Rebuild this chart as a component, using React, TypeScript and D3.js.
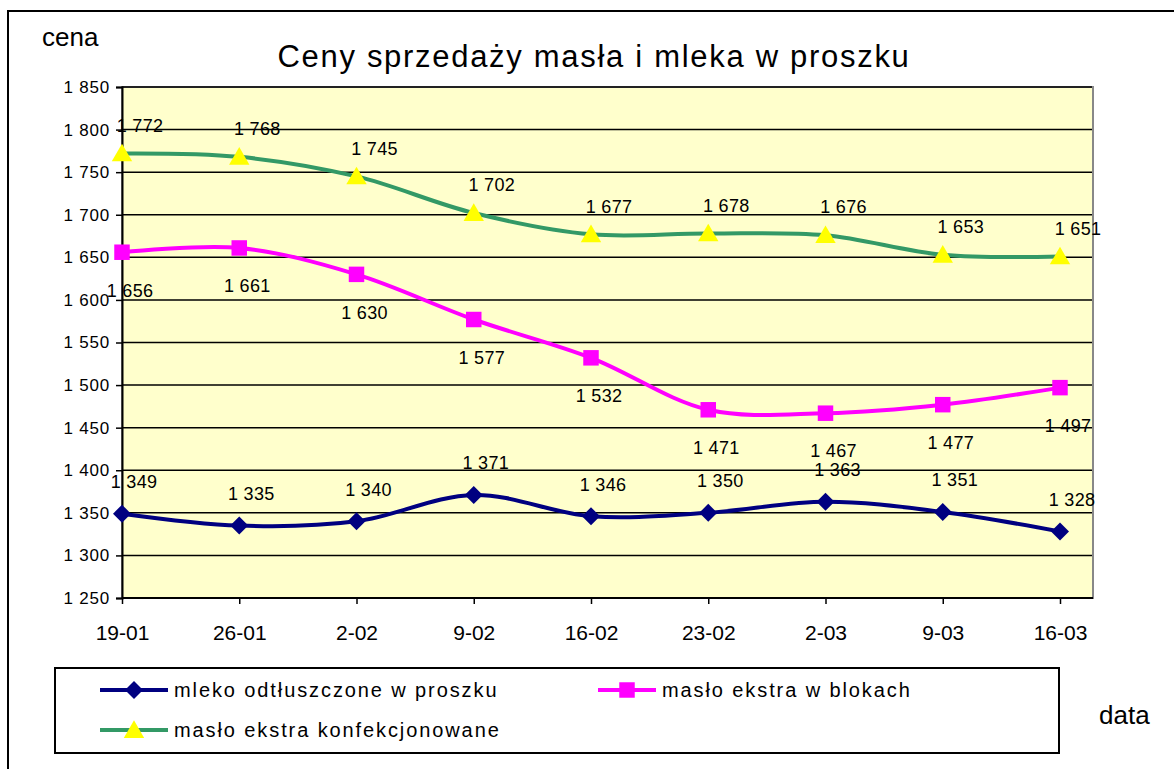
import * as d3 from "d3";
import React, { useRef, useEffect } from "react";

const dates = ["19-01", "26-01", "2-02", "9-02", "16-02", "23-02", "2-03", "9-03", "16-03"];
const mleko = [1349, 1335, 1340, 1371, 1346, 1350, 1363, 1351, 1328];
const masloBloki = [1656, 1661, 1630, 1577, 1532, 1471, 1467, 1477, 1497];
const masloKonf = [1772, 1768, 1745, 1702, 1677, 1678, 1676, 1653, 1651];
const yTicks = d3.range(1250, 1851, 50);

const fmt = (v) => d3.format(",")(v).replace(",", " ");
const FONT = "'Liberation Sans', Arial, sans-serif";

function App() {
    const ref = useRef();
    const width = 1174;
    const height = 769;
    const plot = { left: 122, top: 87, right: 1093, bottom: 598 };

    useEffect(() => {
        const svg = d3.select(ref.current);
        svg.selectAll("*").remove();
        svg.style("font-family", FONT);

        const x = d3.scaleLinear().domain([0, dates.length - 1]).range([122, 1060]);
        const y = d3.scaleLinear().domain([1250, 1850]).range([plot.bottom, plot.top]);

        // outer frame
        svg.append("rect")
            .attr("x", 8).attr("y", 11)
            .attr("width", width + 20).attr("height", height + 20)
            .attr("fill", "white").attr("stroke", "black").attr("stroke-width", 2);

        // plot background
        svg.append("rect")
            .attr("x", plot.left).attr("y", plot.top)
            .attr("width", plot.right - plot.left).attr("height", plot.bottom - plot.top)
            .attr("fill", "#FFFFCC").attr("stroke", "#888").attr("stroke-width", 2);

        // grid
        svg.append("g").selectAll("line").data(yTicks.slice(1)).join("line")
            .attr("x1", plot.left).attr("x2", plot.right - 1)
            .attr("y1", (d) => y(d)).attr("y2", (d) => y(d))
            .attr("stroke", "black").attr("stroke-width", 1.5);

        // y axis
        const yAxis = svg.append("g").attr("transform", `translate(${plot.left},0)`)
            .call(d3.axisLeft(y).tickValues(yTicks).tickSize(6).tickFormat(fmt));
        yAxis.attr("font-size", null).attr("font-family", null);
        yAxis.select(".domain").attr("stroke-width", 2);
        yAxis.selectAll(".tick line").attr("stroke-width", 1.5);
        yAxis.selectAll("text").attr("font-size", 17).attr("fill", "black").attr("x", -12)
            .attr("letter-spacing", 0.8).style("font-family", FONT);

        // x axis
        const xAxis = svg.append("g").attr("transform", `translate(0,${plot.bottom})`)
            .call(d3.axisBottom(x).tickValues(d3.range(dates.length)).tickSize(6)
                .tickFormat((i) => dates[i]));
        xAxis.attr("font-size", null).attr("font-family", null);
        xAxis.select(".domain").remove();
        xAxis.append("line").attr("x1", plot.left).attr("x2", plot.right)
            .attr("stroke", "black").attr("stroke-width", 2);
        xAxis.selectAll(".tick line").attr("stroke-width", 1.5);
        xAxis.selectAll("text").attr("font-size", 21).attr("fill", "black")
            .attr("y", 42).attr("dy", 0)
            .style("font-family", FONT);

        const line = d3.line()
            .x((d, i) => x(i))
            .y((d) => y(d))
            .curve(d3.curveCatmullRom.alpha(0.5));

        const series = [
            { data: masloKonf, color: "#339966", marker: "triangle", fill: "#FFFF00", dx: 18, dy: -28 },
            { data: masloBloki, color: "#FF00FF", marker: "square", fill: "#FF00FF", dx: 8, dy: 38 },
            { data: mleko, color: "#000080", marker: "diamond", fill: "#000080", dx: 12, dy: -32 },
        ];

        const symbols = {
            triangle: d3.symbol().type(d3.symbolTriangle).size(180),
            square: d3.symbol().type(d3.symbolSquare).size(240),
            diamond: () => "M0,-9L9,0L0,9L-9,0Z",
        };
        const markerShift = { triangle: 2, square: 0, diamond: 0 };

        series.forEach((s) => {
            svg.append("path").datum(s.data)
                .attr("d", line).attr("fill", "none")
                .attr("stroke", s.color).attr("stroke-width", 4);
            svg.append("g").selectAll("path").data(s.data).join("path")
                .attr("d", symbols[s.marker])
                .attr("transform", (d, i) => `translate(${x(i)},${y(d) + markerShift[s.marker]})`)
                .attr("fill", s.fill);
            svg.append("g").selectAll("text").data(s.data).join("text")
                .attr("x", (d, i) => x(i) + s.dx)
                .attr("y", (d) => y(d) + s.dy)
                .attr("text-anchor", "middle").attr("dy", "0.35em")
                .attr("font-size", 18).attr("letter-spacing", 0.3).text(fmt);
        });

        // titles
        svg.append("text").attr("x", 594).attr("y", 67).attr("text-anchor", "middle")
            .attr("font-size", 31).attr("letter-spacing", 1.7)
            .text("Ceny sprzedaży masła i mleka w proszku");
        svg.append("text").attr("x", 42).attr("y", 46).attr("font-size", 26).text("cena");
        svg.append("text").attr("x", 1099).attr("y", 724).attr("font-size", 26).text("data");

        // legend
        const lg = svg.append("g");
        lg.append("rect").attr("x", 55).attr("y", 668).attr("width", 1004).attr("height", 85)
            .attr("fill", "white").attr("stroke", "black").attr("stroke-width", 2);
        const items = [
            { s: series[2], label: "mleko odtłuszczone w proszku", lx: 100, len: 68, ly: 690 },
            { s: series[1], label: "masło ekstra w blokach", lx: 598, len: 58, ly: 690 },
            { s: series[0], label: "masło ekstra konfekcjonowane", lx: 100, len: 68, ly: 730 },
        ];
        items.forEach((it) => {
            lg.append("line").attr("x1", it.lx).attr("x2", it.lx + it.len)
                .attr("y1", it.ly).attr("y2", it.ly)
                .attr("stroke", it.s.color).attr("stroke-width", 4);
            lg.append("path").attr("d", symbols[it.s.marker])
                .attr("transform", `translate(${it.lx + it.len / 2},${it.ly + markerShift[it.s.marker]})`)
                .attr("fill", it.s.fill);
            lg.append("text").attr("x", it.lx + it.len + 6).attr("y", it.ly + 7)
                .attr("font-size", 20).attr("letter-spacing", 1.9).text(it.label);
        });
    }, []);

    return (
        <svg ref={ref} width={width} height={height}
            style={{ position: "absolute", left: 0, top: 0 }}></svg>
    );
}

export default App;
